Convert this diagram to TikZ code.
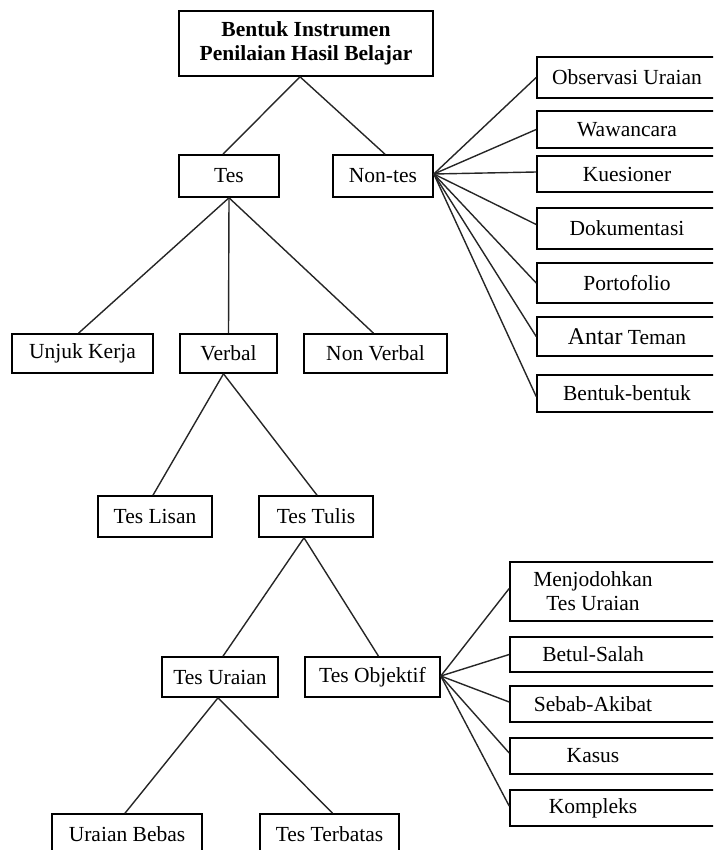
\documentclass[tikz,border=0pt]{standalone}
\usepackage{fontspec}
\setmainfont{Liberation Serif}
\begin{document}
\begin{tikzpicture}[x=1pt,y=-1pt,
  box/.style={draw=black, line width=1.6pt, rectangle, inner sep=0pt, align=center,
    font=\fontsize{21.5}{24}\selectfont},
  txt/.style={inner sep=0pt, align=center, font=\fontsize{21.5}{24}\selectfont},
  con/.style={draw=black!85, line width=1.4pt}]
\useasboundingbox (0,0) rectangle (713,850);
\clip (0,0) rectangle (713,850);
% main tree
\node[box, minimum width=254, minimum height=65, font=\fontsize{21.5}{24}\selectfont\bfseries] (title) at (306,43.5) {Bentuk Instrumen\\Penilaian Hasil Belajar};
\node[box, minimum width=100, minimum height=42] (tes) at (229,176) {Tes};
\node[box, minimum width=100, minimum height=42] (nontes) at (383,176) {Non-tes};
\node[box, minimum width=141, minimum height=39] (unjuk) at (82.5,353.5) {Unjuk Kerja};
\node[box, minimum width=97, minimum height=39] (verbal) at (228.5,353.5) {Verbal};
\node[box, minimum width=143, minimum height=39] (nonverbal) at (375.5,353.5) {Non Verbal};
\node[box, minimum width=114, minimum height=41] (lisan) at (155,516.5) {Tes Lisan};
\node[box, minimum width=114, minimum height=41] (tulis) at (316,516.5) {Tes Tulis};
\node[box, minimum width=116, minimum height=40] (uraian) at (220,677) {Tes Uraian};
\node[box, minimum width=135, minimum height=40] (objektif) at (372.5,677) {Tes Objektif};
\node[box, minimum width=150, minimum height=40] (bebas) at (127,834) {Uraian Bebas};
\node[box, minimum width=139, minimum height=40] (terbatas) at (329.5,834) {Tes Terbatas};
% non-tes branches
\node[box, minimum width=180, minimum height=41] (obs) at (627,77.5) {Observasi Uraian};
\node[box, minimum width=180, minimum height=37] (waw) at (627,129.5) {Wawancara};
\node[box, minimum width=180, minimum height=36] (kue) at (627,174) {Kuesioner};
\node[box, minimum width=180, minimum height=41] (dok) at (627,228.5) {Dokumentasi};
\node[box, minimum width=180, minimum height=40] (port) at (627,283) {Portofolio};
\node[box, minimum width=180, minimum height=39] (antar) at (627,336.5) {{\fontsize{24}{24}\selectfont Antar} Teman};
\node[box, minimum width=180, minimum height=37] (bentuk) at (627,393.5) {Bentuk-bentuk};
% objektif branches
\node[box, minimum width=230, minimum height=59] (menj) at (625,591.5) {};
\node[box, minimum width=230, minimum height=35] (betul) at (625,654.5) {};
\node[box, minimum width=230, minimum height=36] (sebab) at (625,704) {};
\node[box, minimum width=230, minimum height=36] (kasus) at (625,756) {};
\node[box, minimum width=230, minimum height=36] (komp) at (625,808) {};
\node[txt] (menjt) at (593,591.5) {Menjodohkan\\Tes Uraian};
\node[txt] (betult) at (593,654.5) {Betul-Salah};
\node[txt] (sebabt) at (593,704) {Sebab-Akibat};
\node[txt] (kasust) at (593,756) {Kasus};
\node[txt] (kompt) at (593,808) {Kompleks};
% connectors
\draw[con] ([xshift=-6]title.south) -- ([xshift=-6]tes.north);
\draw[con] ([xshift=-6]title.south) -- ([xshift=2]nontes.north);
\draw[con] (tes.south) -- ([xshift=-4]unjuk.north);
\draw[con] (tes.south) -- (verbal.north);
\draw[con] (tes.south) -- ([xshift=-2]nonverbal.north);
\draw[con] ([xshift=-5]verbal.south) -- ([xshift=-2]lisan.north);
\draw[con] ([xshift=-5]verbal.south) -- ([xshift=1]tulis.north);
\draw[con] ([xshift=-12]tulis.south) -- ([xshift=3]uraian.north);
\draw[con] ([xshift=-12]tulis.south) -- ([xshift=6]objektif.north);
\draw[con] ([xshift=-2]uraian.south) -- ([xshift=-2]bebas.north);
\draw[con] ([xshift=-2]uraian.south) -- ([xshift=3]terbatas.north);
\foreach \n/\d in {obs/0, waw/0, kue/2, dok/4, port/0, antar/0, bentuk/-3}
  \draw[con] ([yshift=2]nontes.east) -- ([yshift=\d]\n.west);
\foreach \n/\d in {menj/3, betul/0, sebab/2, kasus/3, komp/2}
  \draw[con] ([yshift=1]objektif.east) -- ([yshift=\d]\n.west);
\end{tikzpicture}
\end{document}
